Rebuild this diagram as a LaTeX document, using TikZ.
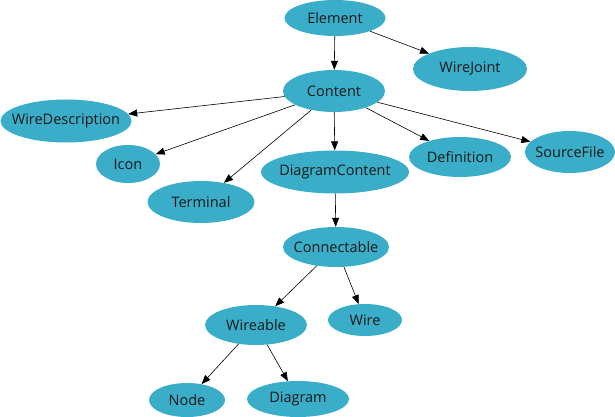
\documentclass[tikz,border=0pt]{standalone}
\usepackage{fontspec}
\setmainfont{Open Sans}
\usetikzlibrary{arrows.meta,shapes.geometric}
\definecolor{cls}{HTML}{3AADC9}

\begin{document}
\begin{tikzpicture}[x=1pt,y=-1pt,font=\fontsize{14.5}{16}\selectfont,
  cls/.style={ellipse,fill=cls,inner xsep=-12pt,inner ysep=0pt,text=black!90},
  edge/.style={-{Triangle[length=9pt,width=7pt]},semithick}]
  \useasboundingbox (0,0) rectangle (615,417);
  \node[cls,minimum width=101,minimum height=36] (element) at (335,18) {Element};
  \node[cls,minimum width=114,minimum height=44] (wirejoint) at (470,69) {WireJoint};
  \node[cls,minimum width=102,minimum height=42] (content) at (334,91) {Content};
  \node[cls,minimum width=131,minimum height=43] (wiredesc) at (66,121) {WireDescription};
  \node[cls,minimum width=64,minimum height=38] (icon) at (128,164) {Icon};
  \node[cls,minimum width=107,minimum height=42] (terminal) at (201,202) {Terminal};
  \node[cls,minimum width=148,minimum height=43] (diagcontent) at (335,172) {DiagramContent};
  \node[cls,minimum width=102,minimum height=40] (definition) at (460,157) {Definition};
  \node[cls,minimum width=90,minimum height=42] (sourcefile) at (570,152) {SourceFile};
  \node[cls,minimum width=106,minimum height=40] (connectable) at (336,247) {Connectable};
  \node[cls,minimum width=102,minimum height=40] (wireable) at (256,325) {Wireable};
  \node[cls,minimum width=74,minimum height=32] (wire) at (365,320) {Wire};
  \node[cls,minimum width=76,minimum height=34] (node) at (187,400) {Node};
  \node[cls,minimum width=102,minimum height=36] (diagram) at (298,399) {Diagram};
  \foreach \a/\b in {element/content,element/wirejoint,content/wiredesc,content/icon,
    content/terminal,content/diagcontent,content/definition,content/sourcefile,
    diagcontent/connectable,connectable/wireable,connectable/wire,wireable/node,wireable/diagram}
    \draw[edge] (\a) -- (\b);
\end{tikzpicture}
\end{document}
